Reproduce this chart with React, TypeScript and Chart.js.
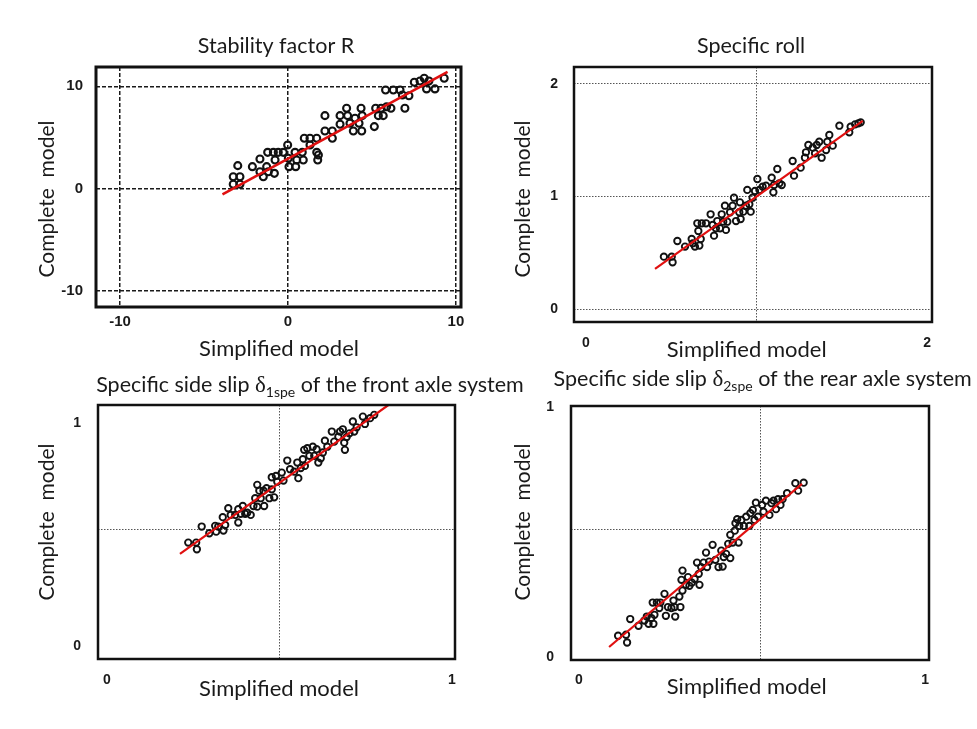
import React, { useEffect, useRef } from "react";
import { Chart, registerables } from "chart.js";

Chart.register(...registerables);

// ---------------- data ----------------
// Panel 1: Stability factor R
const stabSimplified = [-3.26, -2.86, -3.26, -2.86, -2.99, -2.12, -1.67, -1.67, -1.47, -1.27, -1.17, -1.21, -0.87, -0.81, -0.77, -0.58, -0.28, -0.02, 0.02, 0.06, 0.42, 0.46, 0.52, 0.85, 0.91, 0.97, 1.31, 1.31, 1.71, 1.71, 1.81, 1.77, 2.2, 2.2, 2.64, 2.64, 3.1, 3.1, 3.49, 3.55, 3.69, 3.89, 3.99, 4.23, 4.35, 4.39, 4.42, 5.14, 5.22, 5.38, 5.54, 5.67, 5.87, 6.13, 5.81, 6.27, 6.67, 6.81, 6.96, 7.2, 7.52, 7.86, 8.11, 8.25, 8.39, 8.75, 9.3];
const stabComplete = [1.17, 1.17, 0.43, 0.43, 2.25, 2.15, 2.9, 1.66, 1.17, 2.15, 1.66, 3.55, 3.55, 1.5, 2.8, 3.55, 3.55, 4.27, 2.97, 2.15, 3.55, 2.15, 2.8, 3.55, 2.8, 4.92, 4.92, 4.27, 4.92, 3.55, 3.29, 2.8, 7.13, 5.63, 5.63, 4.92, 7.13, 6.29, 7.85, 7.13, 6.39, 5.63, 6.87, 6.39, 7.85, 5.63, 7.13, 6.06, 7.85, 7.13, 7.85, 7.13, 8.0, 7.85, 9.64, 9.64, 9.64, 9.15, 7.85, 9.08, 10.39, 10.52, 10.78, 9.74, 10.52, 9.74, 10.78];
const stabFitX = [-3.9, 9.5];
const stabFitY = [-0.55, 11.4];
const stabTicks = [-10, 0, 10];
const stabTickLabels = ["-10", "0", "10"];

// Panel 2: Specific roll
const rollSimplified = [0.457, 0.503, 0.508, 0.536, 0.581, 0.62, 0.626, 0.639, 0.665, 0.673, 0.659, 0.653, 0.679, 0.704, 0.731, 0.743, 0.751, 0.762, 0.77, 0.786, 0.796, 0.805, 0.815, 0.821, 0.829, 0.845, 0.86, 0.868, 0.88, 0.899, 0.903, 0.907, 0.923, 0.938, 0.946, 0.958, 0.966, 0.977, 0.991, 1.005, 1.017, 1.036, 1.056, 1.089, 1.099, 1.103, 1.122, 1.134, 1.148, 1.212, 1.22, 1.259, 1.284, 1.29, 1.304, 1.33, 1.343, 1.353, 1.368, 1.382, 1.408, 1.415, 1.427, 1.447, 1.486, 1.544, 1.552, 1.578, 1.597, 1.611];
const rollComplete = [0.467, 0.467, 0.417, 0.606, 0.556, 0.624, 0.585, 0.556, 0.565, 0.624, 0.695, 0.763, 0.763, 0.763, 0.843, 0.748, 0.653, 0.718, 0.783, 0.718, 0.843, 0.777, 0.919, 0.704, 0.777, 0.861, 0.919, 0.99, 0.783, 0.861, 0.949, 0.801, 0.866, 0.919, 1.059, 0.932, 0.866, 0.99, 1.05, 1.156, 1.059, 1.088, 1.097, 1.168, 1.038, 1.103, 1.245, 1.118, 1.103, 1.316, 1.186, 1.257, 1.345, 1.393, 1.458, 1.434, 1.384, 1.458, 1.487, 1.345, 1.413, 1.487, 1.547, 1.452, 1.629, 1.57, 1.62, 1.641, 1.65, 1.659];
const rollFitX = [0.405, 1.623];
const rollFitY = [0.358, 1.671];
const rollTicks = [0, 1, 2];
const rollXLabels = ["0", "", "2"];
const rollYLabels = ["0", "1", "2"];

// Panel 3: front axle side slip
const frontSimplified = [0.236, 0.259, 0.261, 0.275, 0.297, 0.314, 0.317, 0.323, 0.338, 0.343, 0.336, 0.352, 0.359, 0.372, 0.381, 0.388, 0.381, 0.394, 0.401, 0.407, 0.417, 0.425, 0.43, 0.436, 0.436, 0.442, 0.446, 0.454, 0.456, 0.463, 0.471, 0.478, 0.485, 0.478, 0.49, 0.494, 0.507, 0.512, 0.523, 0.531, 0.543, 0.552, 0.555, 0.562, 0.568, 0.574, 0.572, 0.581, 0.587, 0.597, 0.601, 0.608, 0.62, 0.613, 0.626, 0.632, 0.639, 0.652, 0.659, 0.671, 0.676, 0.684, 0.688, 0.69, 0.695, 0.703, 0.713, 0.717, 0.724, 0.742, 0.748, 0.763, 0.775];
const frontComplete = [0.44, 0.44, 0.41, 0.512, 0.482, 0.515, 0.489, 0.512, 0.494, 0.519, 0.554, 0.594, 0.564, 0.564, 0.59, 0.569, 0.53, 0.604, 0.569, 0.574, 0.564, 0.604, 0.639, 0.699, 0.601, 0.673, 0.639, 0.673, 0.604, 0.684, 0.639, 0.679, 0.643, 0.733, 0.739, 0.713, 0.754, 0.718, 0.808, 0.769, 0.758, 0.799, 0.729, 0.774, 0.814, 0.784, 0.856, 0.863, 0.829, 0.87, 0.829, 0.859, 0.818, 0.799, 0.844, 0.897, 0.87, 0.938, 0.893, 0.915, 0.938, 0.948, 0.888, 0.856, 0.913, 0.93, 0.983, 0.938, 0.957, 1.005, 0.972, 0.998, 1.013];
const frontFitX = [0.212, 0.816];
const frontFitY = [0.389, 1.057];

// Panel 4: rear axle side slip
const rearSimplified = [0.09, 0.113, 0.116, 0.125, 0.149, 0.166, 0.173, 0.178, 0.186, 0.192, 0.195, 0.19, 0.202, 0.212, 0.209, 0.224, 0.228, 0.234, 0.244, 0.25, 0.253, 0.255, 0.27, 0.267, 0.276, 0.273, 0.276, 0.286, 0.292, 0.296, 0.303, 0.311, 0.318, 0.325, 0.323, 0.33, 0.337, 0.344, 0.347, 0.353, 0.363, 0.371, 0.38, 0.388, 0.392, 0.395, 0.402, 0.408, 0.414, 0.414, 0.421, 0.427, 0.429, 0.434, 0.44, 0.438, 0.446, 0.453, 0.46, 0.469, 0.472, 0.479, 0.484, 0.488, 0.494, 0.506, 0.51, 0.517, 0.527, 0.533, 0.539, 0.546, 0.552, 0.559, 0.565, 0.578, 0.602, 0.61, 0.626];
const rearComplete = [0.073, 0.077, 0.046, 0.14, 0.113, 0.134, 0.15, 0.121, 0.144, 0.121, 0.157, 0.206, 0.206, 0.206, 0.184, 0.241, 0.153, 0.188, 0.184, 0.214, 0.188, 0.15, 0.188, 0.23, 0.334, 0.297, 0.254, 0.277, 0.308, 0.273, 0.286, 0.3, 0.366, 0.277, 0.321, 0.348, 0.366, 0.406, 0.348, 0.37, 0.437, 0.377, 0.348, 0.414, 0.35, 0.388, 0.401, 0.441, 0.384, 0.477, 0.446, 0.494, 0.524, 0.54, 0.513, 0.446, 0.537, 0.513, 0.55, 0.513, 0.564, 0.577, 0.537, 0.606, 0.55, 0.597, 0.57, 0.614, 0.557, 0.604, 0.614, 0.58, 0.62, 0.597, 0.62, 0.644, 0.684, 0.654, 0.686];
const rearFitX = [0.064, 0.621];
const rearFitY = [0.028, 0.681];

const unitTicks = [0, 0.5, 1];
const unitLabels = ["0", "", "1"];

const X_TITLE = "Simplified model";
const Y_TITLE = "Complete  model";

// ---------------- layout / style ----------------
const W = 977;
const H = 729;
const Y_AXIS_W = 60;
const X_AXIS_H = 40;
const TITLE_FONT = '21.5px Lato, "Open Sans", sans-serif';
const X_AXIS_FONT = '22px Lato, "Open Sans", sans-serif';
const Y_AXIS_FONT = '21px Lato, "Open Sans", sans-serif';
const DELTA_FONT = '23px "Liberation Serif", "DejaVu Serif", serif';
const SUB_FONT = '14px Lato, "Open Sans", sans-serif';

type Seg = { text: string; font: string; dy?: number };

const sideSlipTitle = (sub: string, rest: string): Seg[] => [
  { text: "Specific side slip ", font: TITLE_FONT },
  { text: "\u03B4", font: DELTA_FONT },
  { text: sub, font: SUB_FONT, dy: 5 },
  { text: rest, font: TITLE_FONT },
];

const panels = [
  {
    key: "stab",
    xs: stabSimplified, ys: stabComplete, fx: stabFitX, fy: stabFitY,
    area: { l: 96, t: 67, r: 461, b: 307 },
    xMin: -11.43, xMax: 10.3, yMin: -11.55, yMax: 11.88,
    xTicks: stabTicks, xLabels: stabTickLabels, xGrid: stabTicks,
    yTicks: stabTicks, yLabels: stabTickLabels, yGrid: stabTicks,
    tickSize: 15, xPad: 6, yPad: 13, xLabelOffset: 0, yLabelOffset: 0,
    gridColor: "#1a1a1a", gridDash: [4, 2], gridWidth: 1.5, frameWidth: 3,
    markerR: 3.5, markerW: 2.1, fitW: 2.6,
    title: [{ text: "Stability factor R", font: TITLE_FONT }] as Seg[],
    titlePos: [276, 53], xTitlePos: [279, 349], yTitlePos: [47, 199],
  },
  {
    key: "roll",
    xs: rollSimplified, ys: rollComplete, fx: rollFitX, fy: rollFitY,
    area: { l: 574, t: 67, r: 932, b: 322 },
    xMin: -0.07, xMax: 2.029, yMin: -0.113, yMax: 2.15,
    xTicks: rollTicks, xLabels: rollXLabels, xGrid: [1],
    yTicks: rollTicks, yLabels: rollYLabels, yGrid: rollTicks,
    tickSize: 14, xPad: 12.6, yPad: 16, xLabelOffset: 0, yLabelOffset: 0,
    gridColor: "#555", gridDash: [1.5, 1.5], gridWidth: 1, frameWidth: 2.5,
    markerR: 3.2, markerW: 1.9, fitW: 2.2,
    title: [{ text: "Specific roll", font: TITLE_FONT }] as Seg[],
    titlePos: [751, 53], xTitlePos: [746.7, 349.5], yTitlePos: [523, 199],
  },
  {
    key: "front",
    xs: frontSimplified, ys: frontComplete, fx: frontFitX, fy: frontFitY,
    area: { l: 98, t: 405, r: 455, b: 659 },
    xMin: -0.0255, xMax: 1.009, yMin: -0.082, yMax: 1.057,
    xTicks: unitTicks, xLabels: unitLabels, xGrid: [0.5],
    yTicks: unitTicks, yLabels: unitLabels, yGrid: [0.5],
    tickSize: 14, xPad: 12.6, yPad: 17, xLabelOffset: 0, yLabelOffset: 5,
    gridColor: "#555", gridDash: [1.5, 1.5], gridWidth: 1, frameWidth: 2.5,
    markerR: 3.2, markerW: 1.9, fitW: 2.2,
    title: sideSlipTitle("1spe", " of the front axle system"),
    titlePos: [310, 392], xTitlePos: [279, 688.5], yTitlePos: [47, 522],
  },
  {
    key: "rear",
    xs: rearSimplified, ys: rearComplete, fx: rearFitX, fy: rearFitY,
    area: { l: 571, t: 406, r: 929, b: 660 },
    xMin: -0.046, xMax: 0.988, yMin: -0.024, yMax: 0.993,
    xTicks: unitTicks, xLabels: unitLabels, xGrid: [0.5],
    yTicks: unitTicks, yLabels: unitLabels, yGrid: [0.5],
    tickSize: 14, xPad: 11.6, yPad: 17, xLabelOffset: -8, yLabelOffset: 3,
    gridColor: "#555", gridDash: [1.5, 1.5], gridWidth: 1, frameWidth: 2.5,
    markerR: 3.2, markerW: 1.9, fitW: 2.2,
    title: sideSlipTitle("2spe", " of the rear axle system"),
    titlePos: [762.7, 386], xTitlePos: [746.7, 687], yTitlePos: [523, 522],
  },
];

type PanelDef = (typeof panels)[number];

const panelDecor = {
  id: "panelDecor",
  afterDraw(chart: any, _args: any, opts: any) {
    const p: PanelDef = opts.panel;
    if (!p) return;
    const ctx = chart.ctx as CanvasRenderingContext2D;
    const a = chart.chartArea;
    ctx.save();
    // frame
    ctx.strokeStyle = "#111";
    ctx.lineWidth = p.frameWidth;
    ctx.setLineDash([]);
    ctx.strokeRect(a.left, a.top, a.right - a.left, a.bottom - a.top);
    // title with optional subscript
    ctx.fillStyle = "#1a1a1a";
    ctx.textAlign = "left";
    ctx.textBaseline = "alphabetic";
    let total = 0;
    const widths = p.title.map((s) => {
      ctx.font = s.font;
      const w = ctx.measureText(s.text).width;
      total += w;
      return w;
    });
    let x = p.titlePos[0] - total / 2;
    p.title.forEach((s, i) => {
      ctx.font = s.font;
      ctx.fillText(s.text, x, p.titlePos[1] + (s.dy || 0));
      x += widths[i];
    });
    // axis titles
    ctx.textAlign = "center";
    ctx.textBaseline = "middle";
    ctx.font = X_AXIS_FONT;
    ctx.fillText(X_TITLE, p.xTitlePos[0], p.xTitlePos[1]);
    ctx.font = Y_AXIS_FONT;
    ctx.translate(p.yTitlePos[0], p.yTitlePos[1]);
    ctx.rotate(-Math.PI / 2);
    ctx.fillText(Y_TITLE, 0, 0);
    ctx.restore();
  },
};

function makeConfig(p: PanelDef): any {
  const tickFont = { family: '"Liberation Sans", Arial, sans-serif', size: p.tickSize, weight: "bold" as const };
  const gridColorFn = (vals: number[]) => (c: any) =>
    c.tick && vals.includes(c.tick.value) ? p.gridColor : "rgba(0,0,0,0)";
  return {
    type: "scatter",
    data: {
      datasets: [
        {
          label: "fit",
          data: p.fx.map((v, i) => ({ x: v, y: p.fy[i] })),
          showLine: true,
          borderColor: "#e01010",
          borderWidth: p.fitW,
          pointRadius: 0,
          fill: false,
        },
        {
          label: "points",
          data: p.xs.map((v, i) => ({ x: v, y: p.ys[i] })),
          showLine: false,
          pointStyle: "circle",
          pointRadius: p.markerR,
          pointBorderWidth: p.markerW,
          borderColor: "#111",
          pointBorderColor: "#111",
          backgroundColor: "rgba(0,0,0,0)",
          pointBackgroundColor: "rgba(0,0,0,0)",
        },
      ],
    },
    options: {
      responsive: false,
      maintainAspectRatio: false,
      animation: false,
      devicePixelRatio: 1,
      events: [],
      layout: {
        padding: {
          left: p.area.l - Y_AXIS_W,
          top: p.area.t,
          right: W - p.area.r,
          bottom: H - p.area.b - X_AXIS_H,
        },
      },
      plugins: {
        legend: { display: false },
        tooltip: { enabled: false },
        title: { display: false },
        panelDecor: { panel: p },
      },
      scales: {
        x: {
          type: "linear",
          position: "bottom",
          min: p.xMin,
          max: p.xMax,
          afterBuildTicks: (s: any) => {
            s.ticks = p.xTicks.map((v) => ({ value: v }));
          },
          afterFit: (s: any) => {
            s.height = X_AXIS_H;
          },
          ticks: {
            autoSkip: false,
            maxRotation: 0,
            minRotation: 0,
            padding: p.xPad,
            labelOffset: p.xLabelOffset,
            font: tickFont,
            color: "#1a1a1a",
            callback: (_v: any, i: number) => p.xLabels[i] ?? "",
          },
          grid: {
            drawTicks: false,
            lineWidth: p.gridWidth,
            color: gridColorFn(p.xGrid),
          },
          border: { display: false, dash: p.gridDash },
        },
        y: {
          type: "linear",
          position: "left",
          min: p.yMin,
          max: p.yMax,
          afterBuildTicks: (s: any) => {
            s.ticks = p.yTicks.map((v) => ({ value: v }));
          },
          afterFit: (s: any) => {
            s.width = Y_AXIS_W;
          },
          ticks: {
            autoSkip: false,
            padding: p.yPad,
            labelOffset: p.yLabelOffset,
            font: tickFont,
            color: "#1a1a1a",
            callback: (_v: any, i: number) => p.yLabels[i] ?? "",
          },
          grid: {
            drawTicks: false,
            lineWidth: p.gridWidth,
            color: gridColorFn(p.yGrid),
          },
          border: { display: false, dash: p.gridDash },
        },
      },
    },
    plugins: [panelDecor],
  };
}

function PanelChart({ p }: { p: PanelDef }) {
  const ref = useRef<HTMLCanvasElement | null>(null);
  useEffect(() => {
    if (!ref.current) return;
    const chart = new Chart(ref.current, makeConfig(p));
    return () => chart.destroy();
  }, [p]);
  return (
    <canvas
      ref={ref}
      width={W}
      height={H}
      style={{ position: "absolute", left: 0, top: 0, width: W, height: H }}
    />
  );
}

export default function App() {
  return (
    <div
      style={{
        position: "absolute",
        left: 0,
        top: 0,
        width: W,
        height: H,
        background: "#ffffff",
        overflow: "hidden",
      }}
    >
      {panels.map((p) => (
        <PanelChart key={p.key} p={p} />
      ))}
    </div>
  );
}
